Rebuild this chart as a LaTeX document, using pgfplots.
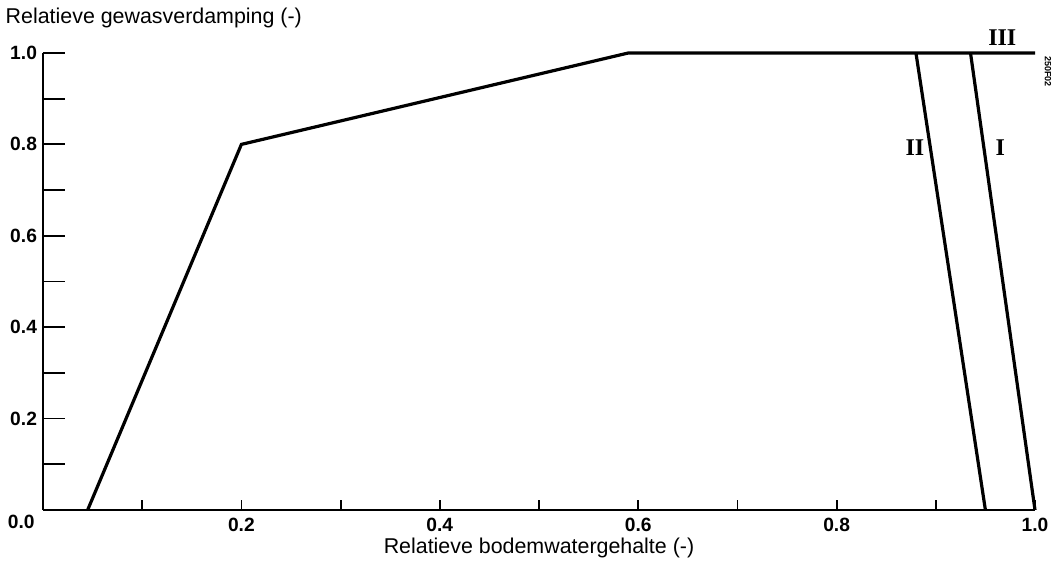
\documentclass[border=0pt]{standalone}
\usepackage{pgfplots}
\pgfplotsset{compat=1.18}
\usepackage{fontspec}
\setmainfont{Liberation Sans}
\newfontfamily\romanfont{Liberation Serif}
\pgfplotsset{
  base/.style={
    at={(0pt,0pt)}, anchor=south west,
    scale only axis, width=496pt, height=228.5pt,
    xmin=0, xmax=1, ymin=0, ymax=1,
    clip=false,
    axis x line*=bottom, axis y line*=left,
    axis line style={line width=1pt},
    every tick/.style={black, line width=0.9pt},
    tick align=inside,
    /pgf/number format/assume math mode=true,
    /pgf/number format/.cd, fixed, fixed zerofill, precision=1, /pgfplots/.cd,
    tick label style={font=\fontsize{9.6}{11}\selectfont\bfseries},
  }
}
\begin{document}
\begin{tikzpicture}
\path[use as bounding box] (-21.5pt,-27.5pt) rectangle (509.5pt,255pt);
\begin{axis}[base,
  xtick=\empty,
  ytick={0.2,0.4,0.6,0.8,1.0},
  minor ytick={0.1,0.3,0.5,0.7,0.9},
  major tick length=11pt, minor tick length=11pt,
  yticklabel style={xshift=0.5pt},
]
\addplot[draw=none] coordinates {(0,0)};
\end{axis}
\begin{axis}[base,
  ytick=\empty,
  xtick={0.2,0.4,0.6,0.8,1.0},
  minor xtick={0.1,0.3,0.5,0.7,0.9},
  major tick length=5pt, minor tick length=5pt,
  xticklabel style={yshift=-0.5pt},
  xlabel={Relatieve bodemwatergehalte (-)},
  xlabel style={at={(axis description cs:0.5,-0.084)}, anchor=center, inner sep=0pt, font=\fontsize{10.7}{12}\selectfont},
]
\addplot[black, line width=1.6pt] coordinates {(0.045,0) (0.2,0.8) (0.59,1.0) (1.0,1.0)};
\addplot[black, line width=1.6pt] coordinates {(0.88,1.0) (0.95,0)};
\addplot[black, line width=1.6pt] coordinates {(0.935,1.0) (1.0,0)};
\node[font=\fontsize{10.7}{12}\selectfont, anchor=west, inner sep=0pt] at (axis description cs:-0.038,1.077) {Relatieve gewasverdamping (-)};
\node[font=\fontsize{9.6}{11}\selectfont\bfseries] at (axis description cs:-0.022,-0.025) {0.0};
\node[font=\fontsize{12}{14}\selectfont\romanfont\bfseries] at (axis cs:0.879,0.792) {II};
\node[font=\fontsize{12}{14}\selectfont\romanfont\bfseries] at (axis cs:0.965,0.792) {I};
\node[font=\fontsize{12}{14}\selectfont\romanfont\bfseries] at (axis cs:0.967,1.034) {III};
\node[font=\fontsize{4.5}{5}\selectfont\bfseries, rotate=-90] at (axis description cs:1.013,0.96) {250F02};
\end{axis}
\end{tikzpicture}
\end{document}
